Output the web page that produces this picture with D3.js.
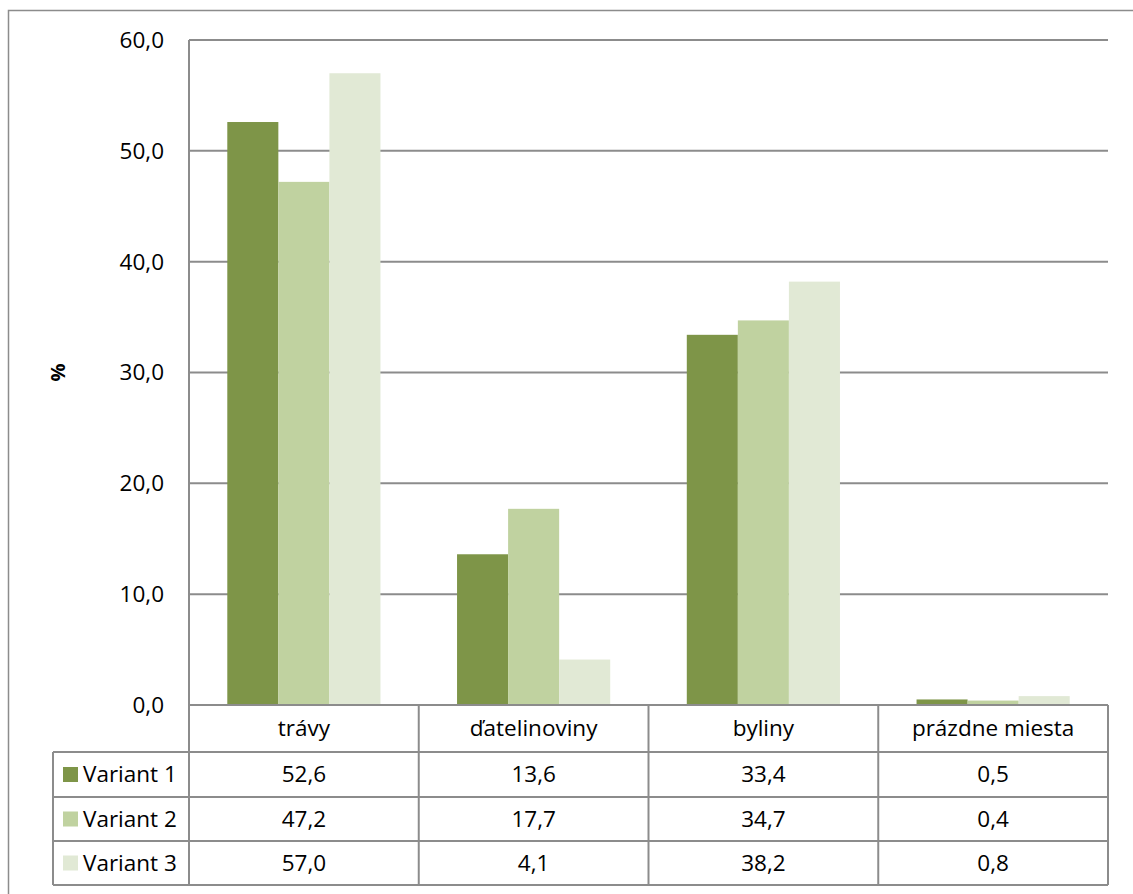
<!DOCTYPE html>
<html>
<head>
<meta charset="utf-8">
<script src="https://cdn.jsdelivr.net/npm/d3@7"></script>
<style>
  body { margin: 0; background: #fff; }
  text { font-family: "Open Sans", Lato, sans-serif; fill: #000; }
</style>
</head>
<body>
<svg id="chart"></svg>
<script>
let categories = ["trávy", "ďatelinoviny", "byliny", "prázdne miesta"];
let seriesNames = ["Variant 1", "Variant 2", "Variant 3"];
let variant1 = [52.6, 13.6, 33.4, 0.5];
let variant2 = [47.2, 17.7, 34.7, 0.4];
let variant3 = [57.0, 4.1, 38.2, 0.8];
let yTicks = [0, 10, 20, 30, 40, 50, 60];
let colors = ["#7e9548", "#c0d2a0", "#e1e9d5"];

let W = 1133, H = 894;
let plot = {left: 189, top: 40, right: 1108, bottom: 705};
let tableLeft = 53;
let rowH = [47, 45, 44, 44];
let gridColor = "#8c8c8c";
let tableFont = "22.5px";

let series = [variant1, variant2, variant3];
let fmt = v => d3.format(".1f")(v).replace(".", ",");

let svg = d3.select("#chart").attr("width", W).attr("height", H);

// outer frame
svg.append("path")
    .attr("d", "M8.5," + H + "V10.5H" + W)
    .attr("fill", "none")
    .attr("stroke", gridColor)
    .attr("stroke-width", 1.5);

let x = d3.scaleBand()
    .domain(categories)
    .range([plot.left, plot.right]);
let x1 = d3.scaleBand()
    .domain(seriesNames)
    .range([0, x.bandwidth()])
    .paddingOuter(0.75)
    .paddingInner(0);
let y = d3.scaleLinear()
    .domain([0, 60])
    .range([plot.bottom, plot.top]);

// grid lines
svg.append("g")
    .selectAll("line")
    .data(yTicks)
    .enter()
    .append("line")
    .attr("x1", plot.left)
    .attr("x2", plot.right)
    .attr("y1", d => y(d))
    .attr("y2", d => y(d))
    .attr("stroke", gridColor)
    .attr("stroke-width", 2);

// y axis labels
svg.append("g")
    .selectAll("text")
    .data(yTicks)
    .enter()
    .append("text")
    .attr("x", 164)
    .attr("y", d => y(d))
    .attr("dy", "0.35em")
    .attr("text-anchor", "end")
    .style("font-size", "22.5px")
    .text(d => fmt(d));

svg.append("text")
    .attr("transform", "translate(65," + ((plot.top + plot.bottom) / 2) + ") rotate(-90)")
    .attr("text-anchor", "middle")
    .style("font-size", "20px")
    .style("font-weight", "bold")
    .text("%");

// bars
seriesNames.forEach(function (name, si) {
    svg.append("g")
        .selectAll("rect")
        .data(series[si])
        .enter()
        .append("rect")
        .attr("x", (d, i) => x(categories[i]) + x1(name))
        .attr("y", d => y(d))
        .attr("width", x1.bandwidth())
        .attr("height", d => y(0) - y(d))
        .attr("fill", colors[si]);
});

// data table
let rowTops = [plot.bottom];
for (let i = 0; i < rowH.length; i++) rowTops.push(rowTops[i] + rowH[i]);
let table = svg.append("g");
let tableBottom = rowTops[rowTops.length - 1];

// horizontal lines
table.append("line")
    .attr("x1", plot.left).attr("x2", plot.right)
    .attr("y1", plot.bottom).attr("y2", plot.bottom)
    .attr("stroke", gridColor).attr("stroke-width", 2);
for (let i = 1; i < rowTops.length; i++) {
    table.append("line")
        .attr("x1", tableLeft).attr("x2", plot.right)
        .attr("y1", rowTops[i]).attr("y2", rowTops[i])
        .attr("stroke", gridColor).attr("stroke-width", 2);
}
// vertical lines
let colEdges = categories.map(c => x(c)).concat([plot.right]);
colEdges.forEach(function (cx, i) {
    table.append("line")
        .attr("x1", cx).attr("x2", cx)
        .attr("y1", i === 0 ? plot.top : plot.bottom)
        .attr("y2", tableBottom)
        .attr("stroke", gridColor).attr("stroke-width", 2);
});
table.append("line")
    .attr("x1", tableLeft).attr("x2", tableLeft)
    .attr("y1", rowTops[1]).attr("y2", tableBottom)
    .attr("stroke", gridColor).attr("stroke-width", 2);

// header
table.selectAll(".hdr")
    .data(categories)
    .enter()
    .append("text")
    .attr("class", "hdr")
    .attr("x", d => x(d) + x.bandwidth() / 2)
    .attr("y", (rowTops[0] + rowTops[1]) / 2)
    .attr("dy", "0.35em")
    .attr("text-anchor", "middle")
    .style("font-size", tableFont)
    .text(d => d);

// rows
seriesNames.forEach(function (name, si) {
    let cy = (rowTops[si + 1] + rowTops[si + 2]) / 2;
    table.append("rect")
        .attr("x", 63)
        .attr("y", cy - 7.5)
        .attr("width", 15)
        .attr("height", 15)
        .attr("fill", colors[si]);
    table.append("text")
        .attr("x", 83)
        .attr("y", cy)
        .attr("dy", "0.35em")
        .style("font-size", tableFont)
        .text(name);
    table.append("g")
        .selectAll("text")
        .data(series[si])
        .enter()
        .append("text")
        .attr("x", (d, i) => x(categories[i]) + x.bandwidth() / 2)
        .attr("y", cy)
        .attr("dy", "0.35em")
        .attr("text-anchor", "middle")
        .style("font-size", tableFont)
        .text(d => fmt(d));
});
</script>
</body>
</html>
